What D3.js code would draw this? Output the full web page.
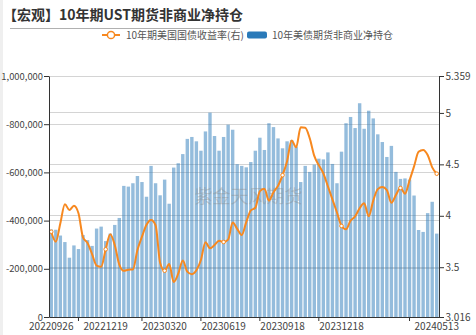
<!DOCTYPE html>
<html>
<head>
<meta charset="utf-8">
<script src="https://cdn.jsdelivr.net/npm/d3@7"></script>
<style>
  html, body { margin: 0; padding: 0; background: #fff; }
  svg { display: block; font-family: "Noto Sans CJK SC", "Noto Sans", sans-serif; }
</style>
</head>
<body>
<svg id="chart" width="476" height="335"></svg>
<script>
// Weekly report dates
const dates = [
  "20220926","20221003","20221010","20221017","20221024","20221031","20221107","20221114","20221121","20221128",
  "20221205","20221212","20221219","20221226","20230102","20230109","20230116","20230123","20230130","20230206",
  "20230213","20230220","20230227","20230306","20230313","20230320","20230327","20230403","20230410","20230417",
  "20230424","20230501","20230508","20230515","20230522","20230529","20230605","20230612","20230619","20230626",
  "20230703","20230710","20230717","20230724","20230731","20230807","20230814","20230821","20230828","20230904",
  "20230911","20230918","20230925","20231002","20231009","20231016","20231023","20231030","20231106","20231113",
  "20231120","20231127","20231204","20231211","20231218","20231225","20240101","20240108","20240115","20240122",
  "20240129","20240205","20240212","20240219","20240226","20240304","20240311","20240318","20240325","20240401",
  "20240408","20240415","20240422","20240429","20240506","20240513"
];

// 10-year Treasury futures, non-commercial net position (contracts)
const netPosition = [
  -363000,-362000,-338000,-311000,-246000,-297000,-282000,-340000,-319000,-295000,
  -367000,-375000,-315000,-346000,-382000,-411000,-544000,-541000,-555000,-585000,
  -560000,-499000,-627000,-555000,-505000,-570000,-470000,-620000,-638000,-676000,
  -739000,-747000,-729000,-690000,-770000,-848000,-751000,-690000,-747000,-798000,
  -777000,-634000,-627000,-621000,-643000,-690000,-744000,-693000,-804000,-788000,
  -741000,-700000,-729000,-734000,-707000,-560000,-627000,-602000,-632000,-657000,
  -654000,-683000,-635000,-555000,-686000,-804000,-830000,-784000,-887000,-781000,
  -856000,-824000,-758000,-726000,-664000,-710000,-602000,-573000,-575000,-570000,
  -504000,-361000,-353000,-431000,-478000,-346000
];

// 10-year US Treasury yield (%)
const yield10y = [
  3.845,3.748,3.927,4.113,4.056,4.097,4.024,3.790,3.735,3.627,
  3.516,3.505,3.674,3.821,3.716,3.526,3.466,3.476,3.478,3.668,
  3.797,3.912,3.959,3.908,3.544,3.466,3.531,3.357,3.437,3.566,
  3.457,3.432,3.470,3.570,3.743,3.684,3.716,3.757,3.745,3.768,
  3.935,3.872,3.813,3.938,4.052,4.078,4.240,4.262,4.146,4.229,
  4.291,4.395,4.530,4.733,4.666,4.860,4.856,4.753,4.582,4.492,
  4.413,4.286,4.160,4.032,3.901,3.869,3.953,3.994,4.073,4.121,
  3.995,4.148,4.259,4.280,4.250,4.127,4.202,4.270,4.215,4.343,
  4.480,4.622,4.640,4.591,4.471,4.409
];

// Axis ticks and their labels
const leftTicks = [0, -200000, -400000, -600000, -800000, -1000000];
const leftTickLabels = ["0", "-200,000", "-400,000", "-600,000", "-800,000", "1,000,000"];
const rightTicks = [3.016, 3.5, 4, 4.5, 5, 5.359];
const rightTickLabels = ["3.016", "3.5", "4", "4.5", "5", "5.359"];
const xLabelDates = ["20220926","20221219","20230320","20230619","20230918","20231218","20240513"];
const xTickDates = ["20221107","20230213","20230515","20230814","20231113","20240401"];
const markerDates = ["20220926","20221219","20230320","20230619","20230918","20231218","20240318","20240513"];

const titleText = "【宏观】10年期UST期货非商业净持仓";
const lineName = "10年期美国国债收益率(右)";
const barName = "10年美债期货非商业净持仓";
const watermark = "紫金天风期货";

const barColor = "#2a7ab9";
const lineColor = "#f7881f";

const svg = d3.select("#chart");
const W = 476, H = 335;
const plot = { left: 49, right: 439, top: 76, bottom: 317 };

// left edge strip
svg.append("rect").attr("x", 0).attr("y", 0).attr("width", 3).attr("height", H).attr("fill", "#efefef");

// title
svg.append("text")
  .attr("x", 3).attr("y", 20)
  .attr("font-size", 14).attr("font-weight", "bold").attr("fill", "#333")
  .text(titleText);
svg.append("line")
  .attr("x1", 10).attr("x2", 240).attr("y1", 28.5).attr("y2", 28.5)
  .attr("stroke", "#b0b0b0").attr("stroke-width", 1);

// scales
const x = d3.scaleBand().domain(dates).range([plot.left, plot.right]).paddingInner(0.25).paddingOuter(0.125);
const yL = d3.scaleLinear().domain([0, -1000000]).range([plot.bottom, plot.top]);
const yR = d3.scaleLinear().domain([3.016, 5.359]).range([plot.bottom, plot.top]);
const cx = d => x(d) + x.bandwidth() / 2;

// grid lines (both axes)
const grid = svg.append("g").attr("stroke", "#d4d4d4").attr("stroke-width", 1).attr("shape-rendering", "crispEdges");
leftTicks.filter(t => t !== 0).forEach(t => {
  grid.append("line").attr("x1", plot.left).attr("x2", plot.right).attr("y1", yL(t)).attr("y2", yL(t));
});
rightTicks.filter(t => t !== 3.016 && t !== 5.359).forEach(t => {
  grid.append("line").attr("x1", plot.left).attr("x2", plot.right).attr("y1", yR(t)).attr("y2", yR(t));
});

// bars
svg.append("g")
  .selectAll("rect")
  .data(netPosition)
  .join("rect")
  .attr("x", (d, i) => x(dates[i]))
  .attr("width", x.bandwidth())
  .attr("y", d => yL(d))
  .attr("height", d => yL(0) - yL(d))
  .attr("fill", barColor)
  .attr("fill-opacity", 0.5);

// watermark
svg.append("text")
  .attr("x", 248.5).attr("y", 203)
  .attr("text-anchor", "middle")
  .attr("font-size", 18)
  .attr("fill", "#8a8a8a").attr("fill-opacity", 0.4)
  .text(watermark);

// yield line
const line = d3.line()
  .x((d, i) => cx(dates[i]))
  .y(d => yR(d))
  .curve(d3.curveMonotoneX);
svg.append("path")
  .datum(yield10y)
  .attr("d", line)
  .attr("fill", "none")
  .attr("stroke", lineColor)
  .attr("stroke-width", 2)
  .attr("stroke-linejoin", "round");

svg.append("g")
  .selectAll("circle")
  .data(markerDates)
  .join("circle")
  .attr("cx", d => cx(d))
  .attr("cy", d => yR(yield10y[dates.indexOf(d)]))
  .attr("r", 1.8)
  .attr("fill", "#fff")
  .attr("stroke", lineColor)
  .attr("stroke-width", 1);

// axes
function styleAxis(size) {
  return g => {
    g.selectAll(".domain").attr("stroke", "#333");
    g.selectAll(".tick line").attr("stroke", "#333");
    g.selectAll(".tick text").attr("fill", "#444").attr("font-size", size)
      .attr("font-family", "'Noto Sans CJK SC', 'Noto Sans', sans-serif");
  };
}

svg.append("g")
  .attr("transform", `translate(${plot.left},0)`)
  .call(d3.axisLeft(yL).tickValues(leftTicks).tickFormat((d, i) => leftTickLabels[i]).tickSize(5).tickSizeOuter(0).tickPadding(1))
  .call(styleAxis(9.4));

svg.append("g")
  .attr("transform", `translate(${plot.right},0)`)
  .call(d3.axisRight(yR).tickValues(rightTicks).tickFormat((d, i) => rightTickLabels[i]).tickSize(5).tickSizeOuter(0).tickPadding(1.5))
  .call(styleAxis(10));

svg.append("g")
  .attr("transform", `translate(0,${plot.bottom})`)
  .call(d3.axisBottom(x).tickValues(xLabelDates).tickSize(0).tickSizeOuter(0).tickPadding(5.5))
  .call(styleAxis(10));

svg.append("g")
  .attr("transform", `translate(0,${plot.bottom})`)
  .call(d3.axisBottom(x).tickValues(xTickDates).tickFormat("").tickSize(4).tickSizeOuter(0))
  .call(styleAxis(10))
  .call(g => g.select(".domain").remove());

// legend
const lg = svg.append("g");
lg.append("line").attr("x1", 102).attr("x2", 120).attr("y1", 35).attr("y2", 35)
  .attr("stroke", lineColor).attr("stroke-width", 2);
lg.append("circle").attr("cx", 111).attr("cy", 35).attr("r", 3.6)
  .attr("fill", "#fff").attr("stroke", lineColor).attr("stroke-width", 1.5);
lg.append("text").attr("x", 126).attr("y", 38.5).attr("font-size", 10).attr("fill", "#555").text(lineName);
lg.append("rect").attr("x", 247).attr("y", 31.5).attr("width", 20).attr("height", 7).attr("rx", 2)
  .attr("fill", barColor);
lg.append("text").attr("x", 272).attr("y", 38.5).attr("font-size", 10).attr("fill", "#555").text(barName);
</script>
</body>
</html>
